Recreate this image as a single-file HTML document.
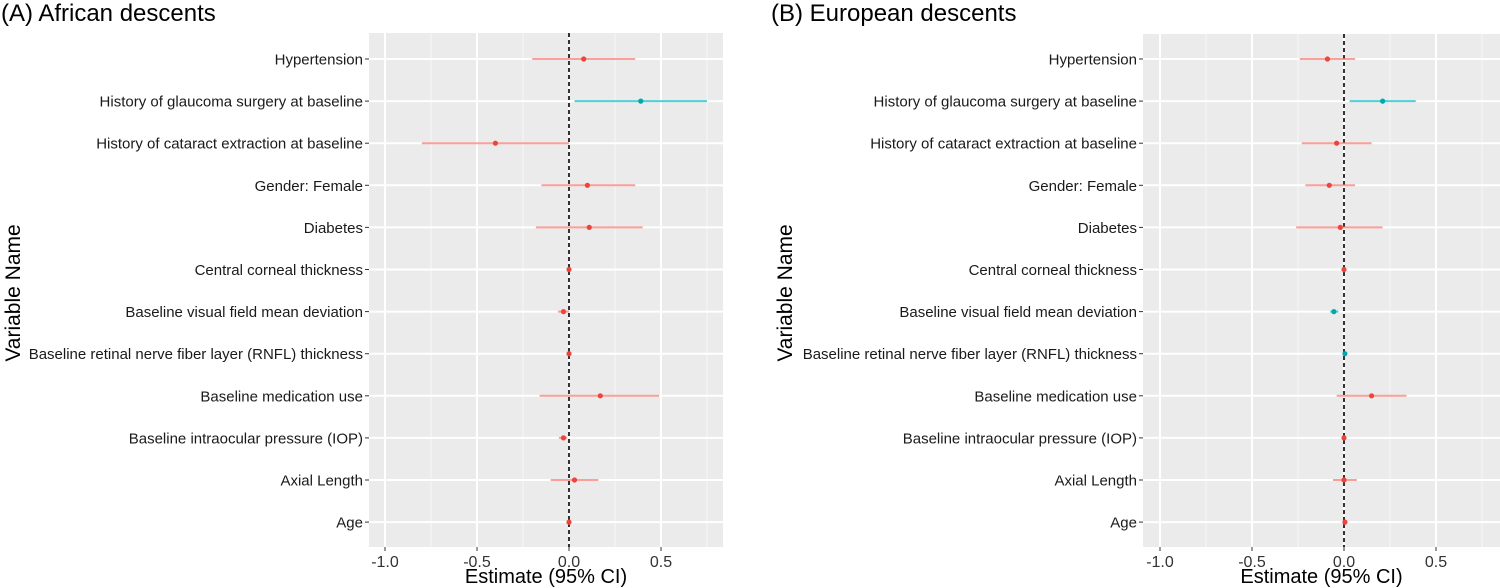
<!DOCTYPE html>
<html><head><meta charset="utf-8"><style>
html,body{margin:0;padding:0;background:#fff;}
svg{display:block;font-family:"Liberation Sans",Arial,sans-serif;}
</style></head><body>
<svg id="chart" width="1500" height="588" viewBox="0 0 1500 588"></svg>
<script>
const categories = ["Hypertension","History of glaucoma surgery at baseline","History of cataract extraction at baseline","Gender: Female","Diabetes","Central corneal thickness","Baseline visual field mean deviation","Baseline retinal nerve fiber layer (RNFL) thickness","Baseline medication use","Baseline intraocular pressure (IOP)","Axial Length","Age"];
const estA = [0.08,0.39,-0.40,0.10,0.11,0.0,-0.03,0.0,0.17,-0.03,0.03,0.0];
const lowA = [-0.20,0.03,-0.80,-0.15,-0.18,-0.005,-0.06,-0.004,-0.16,-0.055,-0.10,-0.004];
const highA = [0.36,0.75,0.0,0.36,0.40,0.005,0.0,0.004,0.49,-0.01,0.16,0.004];
const sigA = [0,1,0,0,0,0,0,0,0,0,0,0];
const estB = [-0.09,0.21,-0.04,-0.08,-0.02,0.0,-0.055,0.005,0.15,0.0,0.0,0.005];
const lowB = [-0.24,0.03,-0.23,-0.21,-0.26,-0.004,-0.075,0.0,-0.04,-0.005,-0.06,0.0];
const highB = [0.06,0.39,0.15,0.06,0.21,0.004,-0.03,0.01,0.34,0.005,0.07,0.01];
const sigB = [0,1,0,0,0,0,1,1,0,0,0,0];
const xTicks = [-1.0,-0.5,0.0,0.5];
const xTickLabels = ["-1.0","-0.5","0.0","0.5"];
const xMinor = [-0.75,-0.25,0.25,0.75];

const NS="http://www.w3.org/2000/svg";
const svg=document.getElementById('chart');
function mk(tag,attrs,parent,text){const e=document.createElementNS(NS,tag);for(const k in attrs)e.setAttribute(k,attrs[k]);if(text!==undefined)e.textContent=text;(parent||svg).appendChild(e);return e;}

function panel(opt){
  const {left,right,top,bottom,zeroX,title,titleX,yTitleX,est,low,high,sig,id}=opt;
  const scale=184;
  const x=v=>zeroX+v*scale;
  const y=i=>59+i*42.1;
  const g=mk('g',{});
  
  
  const bg=mk('rect',{x:left,y:top,width:right-left,height:bottom-top,fill:'#EBEBEB'},g);
  
  
  xMinor.forEach(v=>{if(x(v)>left&&x(v)<right){const l=mk('line',{x1:x(v),x2:x(v),y1:top,y2:bottom,stroke:'#F7F7F7','stroke-width':1},g);}});
  xTicks.forEach((v,i)=>{
    const l=mk('line',{x1:x(v),x2:x(v),y1:top,y2:bottom,stroke:'#fff','stroke-width':2},g);
    
    
    mk('line',{x1:x(v),x2:x(v),y1:bottom,y2:bottom+4,stroke:'#333','stroke-width':1},g);
    const t=mk('text',{x:x(v),y:bottom+20,'font-size':16,fill:'#333','text-anchor':'middle'},g,xTickLabels[i]);
    
    
  });
  categories.forEach((c,i)=>{
    const l=mk('line',{x1:left,x2:right,y1:y(i),y2:y(i),stroke:'#fff','stroke-width':2},g);
    
    
    mk('line',{x1:left-4,x2:left,y1:y(i),y2:y(i),stroke:'#333','stroke-width':1},g);
    const t=mk('text',{x:left-6,y:y(i)+5.5,'font-size':15,fill:'#1a1a1a','text-anchor':'end'},g,c);
    
    
  });
  const z=mk('line',{x1:x(0),x2:x(0),y1:top,y2:bottom,stroke:'#000','stroke-width':1.6,'stroke-dasharray':'4 3'},g);
  
  
  categories.forEach((c,i)=>{
    const col=sig[i]?'#00BFC4':'#F8766D';
    const ci=mk('line',{x1:x(low[i]),x2:x(high[i]),y1:y(i),y2:y(i),stroke:col,'stroke-opacity':0.7,'stroke-width':2},g);
    
    
    const p=mk('circle',{cx:x(est[i]),cy:y(i),r:2.6,fill:sig[i]?'#00A9AE':'#F0433A'},g);
    
    
  });
  const tt=mk('text',{x:titleX,y:21,'font-size':24,fill:'#000'},g,title);
  
  
  const yt=mk('text',{x:0,y:0,'font-size':21,fill:'#000','text-anchor':'middle',transform:`translate(${yTitleX},293) rotate(-90)`},g,'Variable Name');
  
  
  const xt=mk('text',{x:(left+right)/2,y:583,'font-size':20,fill:'#000','text-anchor':'middle'},g,'Estimate (95% CI)');
  
  
}
panel({id:'a',left:369,right:723,top:33,bottom:547,zeroX:569,title:'(A) African descents',titleX:1,yTitleX:20,est:estA,low:lowA,high:highA,sig:sigA});
panel({id:'b',left:1143,right:1500,top:34,bottom:547,zeroX:1344,title:'(B) European descents',titleX:771,yTitleX:792,est:estB,low:lowB,high:highB,sig:sigB});
</script>
</body></html>
